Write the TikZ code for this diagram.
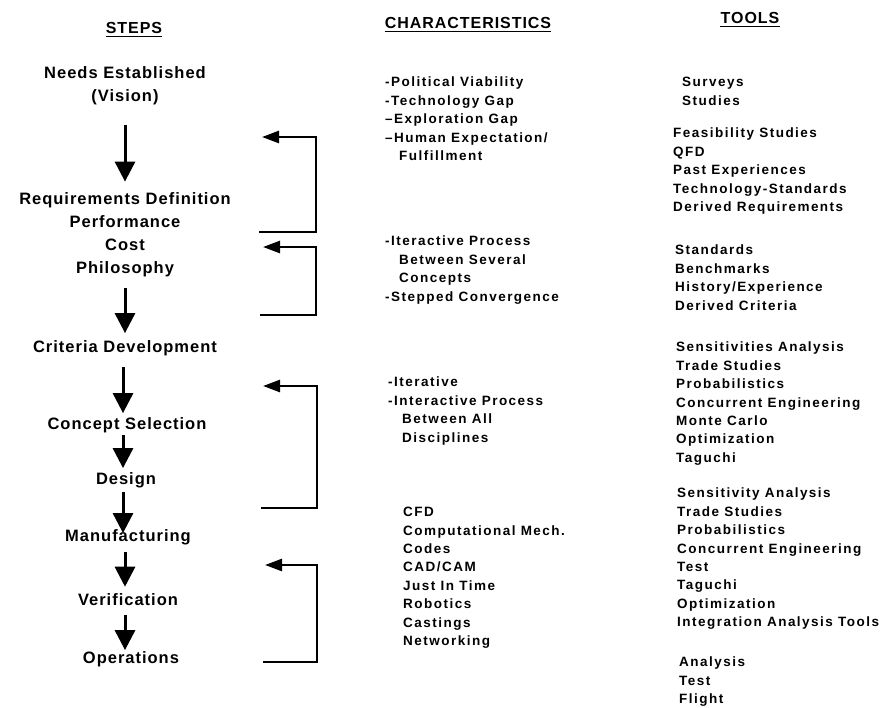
\documentclass[tikz,border=0pt]{standalone}
\usepackage{fontspec}
\setmainfont{Liberation Sans}
\newfontfamily\stepfont[LetterSpace=6]{Liberation Sans}
\newfontfamily\listfont[LetterSpace=11]{Liberation Sans}
\usetikzlibrary{
  arrows.meta   % Triangle 箭头样式
}

\tikzset{
  headText/.style={font=\stepfont\bfseries\fontsize{16}{18}\selectfont, inner sep=0pt},
  stepNode/.style={font=\stepfont\bfseries\fontsize{16.5}{23}\selectfont, align=center, inner sep=0pt},
  listNode/.style={font=\listfont\bfseries\fontsize{13.5}{18.4}\selectfont, align=left, anchor=north west, inner sep=0pt},
  stepArrow/.style={line width=3pt, -{Triangle[length=20pt,width=20pt]}},
  backArrow/.style={line width=2.5pt, -{Triangle[length=17pt,width=12pt]}}
}

\begin{document}
\begin{tikzpicture}[x=1pt, y=-1pt]
  \useasboundingbox (0,0) rectangle (886,707);

  % === 栏目标题（带下划线） ===
  \node[headText] (hSteps) at (134,28) {STEPS};
  \node[headText] (hChar) at (468,23) {CHARACTERISTICS};
  \node[headText] (hTools) at (750,18) {TOOLS};
  \draw[line width=1.2pt] ([yshift=-2.5pt]hSteps.south west) -- ([yshift=-2.5pt]hSteps.south east);
  \draw[line width=1.2pt] ([yshift=-2.5pt]hChar.south west) -- ([yshift=-2.5pt]hChar.south east);
  \draw[line width=1.2pt] ([yshift=-2.5pt]hTools.south west) -- ([yshift=-2.5pt]hTools.south east);

  % === 左栏：步骤 ===
  \node[stepNode] (needs) at (125,86) {Needs Established\\(Vision)};
  \node[stepNode] (req) at (125,235) {Requirements Definition\\Performance\\Cost\\Philosophy};
  \node[stepNode] (crit) at (125,348) {Criteria Development};
  \node[stepNode] (concept) at (127,425) {Concept Selection};
  \node[stepNode] (design) at (126,480) {Design};
  \node[stepNode] (manuf) at (128,537) {Manufacturing};
  \node[stepNode] (verif) at (128,600) {Verification};
  \node[stepNode] (ops) at (131,659) {Operations};

  % 步骤之间的向下箭头
  \draw[stepArrow] ([yshift=-20pt]needs.south) -- ([yshift=11pt]req.north);
  \draw[stepArrow] ([yshift=-11pt]req.south) -- ([yshift=7pt]crit.north);
  \draw[stepArrow] ([xshift=-2pt,yshift=-11pt]crit.south) -- ([xshift=-4pt,yshift=4pt]concept.north);
  \draw[stepArrow] ([xshift=-4pt,yshift=-2pt]concept.south) -- ([xshift=-3pt,yshift=4pt]design.north);
  \draw[stepArrow] ([xshift=-3pt,yshift=-4pt]design.south) -- ([xshift=-5pt,yshift=-4pt]manuf.north);
  \draw[stepArrow] ([xshift=-3pt,yshift=-7pt]manuf.south) -- ([xshift=-3pt,yshift=7pt]verif.north);
  \draw[stepArrow] ([xshift=-3pt,yshift=-9pt]verif.south) -- ([xshift=-6pt,yshift=1pt]ops.north);

  % === 反馈回路（右侧折线箭头） ===
  \coordinate (b1s) at (259,232); \coordinate (b1e) at (262,137);
  \coordinate (b2s) at (260,315); \coordinate (b2e) at (263,247);
  \coordinate (b3s) at (261,508); \coordinate (b3e) at (263,386);
  \coordinate (b4s) at (263,662); \coordinate (b4e) at (265,565);
  \draw[backArrow] (b1s) -- ++(57,0) |- (b1e);
  \draw[backArrow] (b2s) -- ++(56,0) |- (b2e);
  \draw[backArrow] (b3s) -- ++(56,0) |- (b3e);
  \draw[backArrow] (b4s) -- ++(54,0) |- (b4e);

  % === 中栏：特征 ===
  \node[listNode] (char1) at (385,77) {-Political Viability\\-Technology Gap\\–Exploration Gap\\–Human Expectation/\\\hspace*{14pt}Fulfillment};
  \node[listNode] (char2) at (385,236) {-Iteractive Process\\\hspace*{14pt}Between Several\\\hspace*{14pt}Concepts\\-Stepped Convergence};
  \node[listNode] (char3) at (388,377) {-Iterative\\-Interactive Process\\\hspace*{14pt}Between All\\\hspace*{14pt}Disciplines};
  \node[listNode] (char4) at (403,507) {CFD\\Computational Mech.\\Codes\\CAD/CAM\\Just In Time\\Robotics\\Castings\\Networking};

  % === 右栏：工具 ===
  \node[listNode] (tool1) at (682,77) {Surveys\\Studies};
  \node[listNode] (tool2) at (673,128) {Feasibility Studies\\QFD\\Past Experiences\\Technology-Standards\\Derived Requirements};
  \node[listNode] (tool3) at (675,245) {Standards\\Benchmarks\\History/Experience\\Derived Criteria};
  \node[listNode] (tool4) at (676,342) {Sensitivities Analysis\\Trade Studies\\Probabilistics\\Concurrent Engineering\\Monte Carlo\\Optimization\\Taguchi};
  \node[listNode] (tool5) at (677,488) {Sensitivity Analysis\\Trade Studies\\Probabilistics\\Concurrent Engineering\\Test\\Taguchi\\Optimization\\Integration Analysis Tools};
  \node[listNode] (tool6) at (679,657) {Analysis\\Test\\Flight};
\end{tikzpicture}
\end{document}
